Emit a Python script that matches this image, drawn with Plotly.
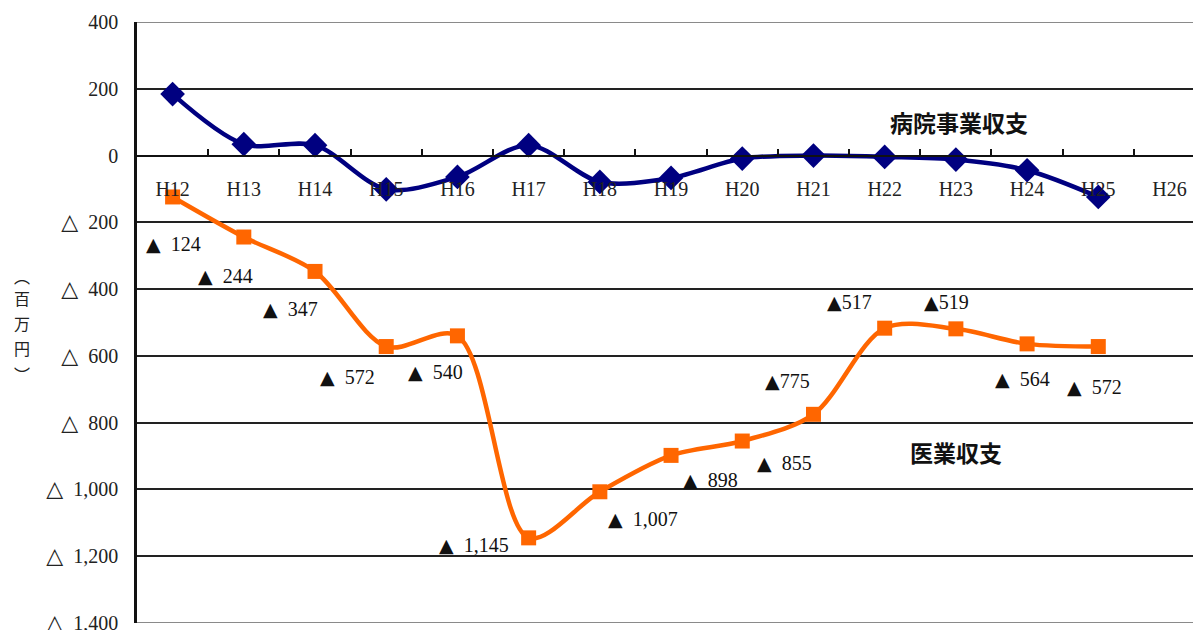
import plotly.graph_objects as go

categories = ["H12", "H13", "H14", "H15", "H16", "H17", "H18", "H19", "H20",
              "H21", "H22", "H23", "H24", "H25", "H26"]
hospital_balance = [184, 34, 31, -101, -64, 31, -79, -67, -9, 0, -4, -12, -44, -124]
medical_balance = [-124, -244, -347, -572, -540, -1145, -1007, -898, -855, -775,
                   -517, -519, -564, -572]
ytick_vals = [400, 200, 0, -200, -400, -600, -800, -1000, -1200, -1400]
ytick_text = ["400", "200", "0", "△ 200", "△ 400", "△ 600", "△ 800",
              "△ 1,000", "△ 1,200", "△ 1,400"]
unit_chars = ["︵", "百", "万", "円", "︶"]
unit_shift = [47, 25, 0, -25, -51]
label_gap = ["\u2002", "\u2002", "\u2002", "\u2002", "\u2002", "\u2002", "\u2002",
             "\u2002", "\u2002", "", "", "", "\u2002", "\u2002"]
# label offsets in pixels relative to the data point (right, down)
label_dx = [1, -18, -25, -39, -22, -55, 43, 39, 42, -26, -35, -9, -5, -4]
label_dy = [47, 39, 38, 30, 36, 7, 27, 25, 22, -33, -26, -27, 35, 40]

SERIF = "Liberation Serif, DejaVu Serif, Noto Sans CJK JP, serif"
CJK = "Noto Sans CJK JP, sans-serif"
TRI = "<span style='font-family:DejaVu Sans;font-size:19px'>▲</span>"
WTRI = "<span style='font-family:DejaVu Sans;font-size:22px'>△</span>"


def tick_label(t):
    if t.startswith("△ "):
        return WTRI + "\u2002" + t[2:]
    return t


fig = go.Figure()
fig.add_trace(go.Scatter(
    x=categories[:len(medical_balance)], y=medical_balance, mode="lines+markers",
    line=dict(color="#FF6600", width=4.5, shape="spline", smoothing=0.9),
    marker=dict(symbol="square", size=15, color="#FF6600"),
    showlegend=False, cliponaxis=False))
fig.add_trace(go.Scatter(
    x=categories[:len(hospital_balance)], y=hospital_balance, mode="lines+markers",
    line=dict(color="#000080", width=4.5, shape="spline", smoothing=0.9),
    marker=dict(symbol="diamond", size=19, color="#000080"),
    showlegend=False, cliponaxis=False))

annotations = []
for i, v in enumerate(medical_balance):
    annotations.append(dict(
        x=categories[i], y=v, xref="x", yref="y",
        text=TRI + label_gap[i] + f"{abs(v):,}",
        showarrow=False, xanchor="center", yanchor="middle",
        xshift=label_dx[i], yshift=-label_dy[i],
        font=dict(family=SERIF, size=20, color="#111")))

annotations.append(dict(x=11.04, y=100, xref="x", yref="y", text="<b>病院事業収支</b>",
                        showarrow=False, font=dict(family=CJK, size=23, color="#111")))
annotations.append(dict(x=11.0, y=-889, xref="x", yref="y", text="<b>医業収支</b>",
                        showarrow=False, font=dict(family=CJK, size=23, color="#111")))
for ch, sh in zip(unit_chars, unit_shift):
    annotations.append(dict(x=0, y=0.5, xref="paper", yref="paper", xshift=-115,
                            yshift=sh, text=ch, showarrow=False,
                            xanchor="center", yanchor="middle",
                            font=dict(family=CJK, size=16, color="#222")))

fig.update_layout(
    width=1193, height=630,
    margin=dict(l=137, r=0, t=22, b=7),
    paper_bgcolor="white", plot_bgcolor="white",
    annotations=annotations,
    shapes=[
        dict(type="line", xref="paper", yref="y", x0=0, x1=1, y0=400, y1=400,
             line=dict(color="#8a8a8a", width=2)),
        dict(type="line", xref="paper", yref="y", x0=0, x1=1, y0=-1400, y1=-1400,
             line=dict(color="#8a8a8a", width=2)),
    ],
    xaxis=dict(
        type="category", categoryorder="array", categoryarray=categories,
        range=[-0.5, 14.33], anchor="free", position=1400 / 1800,
        showline=True, linecolor="#111", linewidth=2,
        ticks="inside", ticklen=6, tickwidth=1.5, tickcolor="#111",
        tickson="boundaries", showgrid=False, zeroline=False,
        ticklabelstandoff=15, automargin=False,
        tickfont=dict(family=SERIF, size=20, color="#222"),
    ),
    yaxis=dict(
        range=[-1400, 400], tickvals=ytick_vals,
        ticktext=[tick_label(t) for t in ytick_text],
        showline=True, linecolor="#111", linewidth=2.5,
        showgrid=True, gridcolor="#222", gridwidth=1.5, zeroline=False,
        ticks="", ticklabelstandoff=12, ticklabeloverflow="allow", automargin=False,
        tickfont=dict(family=SERIF, size=20, color="#222"),
    ),
)

fig.write_html("out.html")
